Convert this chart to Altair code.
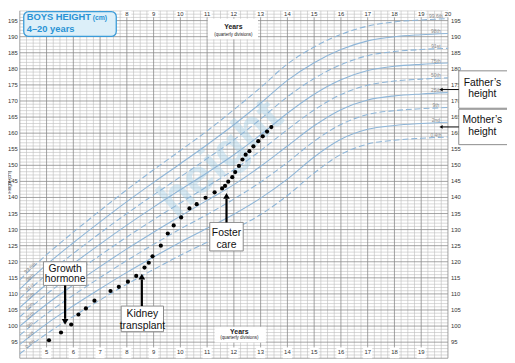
import altair as alt
import pandas as pd
import numpy as np

# ---------------- data ----------------
ages = list(range(4, 21))
cent_names = ["0.4th", "2nd", "9th", "25th", "50th", "75th", "91st", "98th", "99.6th"]
c0_4 = [91.4, 97.6, 103.0, 108.1, 113.0, 117.6, 122.0, 126.1, 130.1, 134.7, 140.6, 147.6, 153.4, 156.6, 157.8, 158.4, 158.8]
c2 = [94.3, 100.7, 106.3, 111.6, 116.7, 121.5, 126.1, 130.4, 134.8, 139.8, 145.7, 152.6, 158.1, 161.2, 162.4, 163.0, 163.4]
c9 = [97.2, 103.8, 109.6, 115.1, 120.4, 125.4, 130.2, 134.7, 139.5, 144.8, 150.9, 157.5, 162.7, 165.8, 167.0, 167.6, 168.0]
c25 = [100.0, 106.8, 112.8, 118.5, 124.0, 129.2, 134.2, 139.1, 144.0, 149.7, 156.0, 162.3, 167.3, 170.3, 171.6, 172.2, 172.6]
c50 = [102.9, 109.9, 116.1, 122.0, 127.7, 133.1, 138.3, 143.4, 148.6, 154.6, 161.1, 167.2, 172.0, 174.9, 176.2, 176.8, 177.2]
c75 = [105.8, 113.0, 119.4, 125.5, 131.4, 137.0, 142.4, 147.7, 153.3, 159.5, 166.2, 172.1, 176.6, 179.5, 180.8, 181.4, 181.8]
c91 = [108.6, 116.0, 122.6, 128.9, 135.0, 140.8, 146.4, 152.1, 157.9, 164.4, 171.3, 177.0, 181.3, 184.1, 185.4, 186.0, 186.4]
c98 = [111.5, 119.1, 125.9, 132.4, 138.7, 144.7, 150.5, 156.4, 162.6, 169.3, 176.4, 181.9, 186.0, 188.7, 190.0, 190.6, 191.0]
c99_6 = [114.4, 122.2, 129.2, 135.9, 142.4, 148.6, 154.6, 160.7, 167.3, 174.2, 181.5, 186.8, 190.7, 193.3, 194.6, 195.2, 195.6]
cent_values = [c0_4, c2, c9, c25, c50, c75, c91, c98, c99_6]
cent_dashed = [True, False, True, False, True, False, True, False, True]

child_age = [5.09, 5.54, 5.92, 6.19, 6.47, 6.79, 7.39, 7.70, 8.04, 8.35, 8.66, 8.82, 8.96,
             9.27, 9.53, 9.75, 10.03, 10.34, 10.61, 10.94, 11.28, 11.56, 11.67, 11.79, 11.94,
             12.05, 12.19, 12.32, 12.44, 12.58, 12.73, 12.91, 13.08, 13.24, 13.40]
child_height = [95.6, 98.0, 100.5, 103.6, 105.5, 107.9, 110.9, 112.2, 113.8, 115.6, 118.2, 119.7, 121.7,
                125.0, 128.8, 131.3, 133.8, 136.6, 137.9, 139.9, 141.6, 142.8, 143.6, 144.9, 146.3,
                147.9, 149.8, 151.8, 153.3, 154.4, 155.9, 157.5, 159.0, 160.5, 161.9]

y_ticks = list(range(95, 200, 5))
year_top = list(range(8, 21))
year_bottom = list(range(5, 20))

# ---------------- layout ----------------
W, H = 435, 353
xs = alt.Scale(domain=[4, 20], nice=False, zero=False)
ys = alt.Scale(domain=[90, 198.05], nice=False, zero=False)
FONT = "Liberation Sans"
LINE_BLUE = "#8fb6d8"
TXT = "#333333"


def X(f):
    return alt.X(f"{f}:Q", scale=xs, axis=None)


def Y(f):
    return alt.Y(f"{f}:Q", scale=ys, axis=None)


def PX(f):
    return alt.X(f"{f}:Q", scale=None, axis=None)


def PY(f):
    return alt.Y(f"{f}:Q", scale=None, axis=None)


quarters = [4 + i * 0.25 for i in range(65)]
minor_v = pd.DataFrame({"v": [q for q in quarters if q % 1 != 0]})
major_v = pd.DataFrame({"v": list(range(4, 21))})
minor_h = pd.DataFrame({"v": [h for h in range(90, 199) if h % 5 != 0]})
major_h = pd.DataFrame({"v": list(range(90, 199, 5))})

grid = [
    alt.Chart(minor_v).mark_rule(color="#bdbdbd", strokeWidth=0.6).encode(x=X("v")),
    alt.Chart(minor_h).mark_rule(color="#bdbdbd", strokeWidth=0.6).encode(y=Y("v")),
    alt.Chart(major_v).mark_rule(color="#8a8a8a", strokeWidth=0.8).encode(x=X("v")),
    alt.Chart(major_h).mark_rule(color="#8a8a8a", strokeWidth=0.8).encode(y=Y("v")),
]

watermark = alt.Chart(pd.DataFrame({"t": ["height"]})).mark_text(
    font=FONT, fontWeight="bold", fontSize=50, angle=318, fill="#a9d2e8", opacity=0.45
).encode(x=alt.value(204), y=alt.value(150), text="t:N")

rows = []
for name, vals, dsh in zip(cent_names, cent_values, cent_dashed):
    for a, v in zip(ages, vals):
        rows.append({"age": a, "h": v, "c": name, "dashed": dsh})
cdf = pd.DataFrame(rows)

solid_lines = alt.Chart(cdf[~cdf.dashed]).mark_line(
    interpolate="monotone", color=LINE_BLUE, strokeWidth=1.1
).encode(x=X("age"), y=Y("h"), detail="c:N")
dashed_lines = alt.Chart(cdf[cdf.dashed]).mark_line(
    interpolate="monotone", color=LINE_BLUE, strokeWidth=1.1, strokeDash=[6, 3]
).encode(x=X("age"), y=Y("h"), detail="c:N")

left_lab = pd.DataFrame({
    "age": [4.42] * 9,
    "h": [float(np.interp(4.42, ages, v)) for v in cent_values],
    "t": cent_names,
})
right_lab = pd.DataFrame({
    "age": [19.55] * 9,
    "h": [float(np.interp(19.55, ages, v)) for v in cent_values],
    "t": cent_names,
})
left_labels = alt.Chart(left_lab).mark_text(
    font=FONT, fontSize=5, angle=320, fill="#8a8a8a", dy=-2
).encode(x=X("age"), y=Y("h"), text="t:N")
right_labels = alt.Chart(right_lab).mark_text(
    font=FONT, fontSize=5, fill="#8a8a8a", dy=-3
).encode(x=X("age"), y=Y("h"), text="t:N")

dots = alt.Chart(pd.DataFrame({"age": child_age, "h": child_height})).mark_circle(
    size=18, color="black", opacity=1
).encode(x=X("age"), y=Y("h"))

# year labels with white backgrounds
top_df = pd.DataFrame({"a": year_top, "a0": [y - 0.17 for y in year_top], "a1": [y + 0.17 for y in year_top],
                       "t": [str(y) for y in year_top]})
bot_df = pd.DataFrame({"a": year_bottom, "a0": [y - 0.17 for y in year_bottom], "a1": [y + 0.17 for y in year_bottom],
                       "t": [str(y) for y in year_bottom]})
year_layers = [
    alt.Chart(top_df).mark_rect(fill="white").encode(x=X("a0"), x2="a1:Q", y=alt.value(0), y2=alt.value(6.5)),
    alt.Chart(top_df).mark_text(font=FONT, fontSize=6, fill=TXT, opacity=1).encode(
        x=X("a"), y=alt.value(3), text="t:N"),
    alt.Chart(bot_df).mark_rect(fill="white").encode(x=X("a0"), x2="a1:Q", y=alt.value(342), y2=alt.value(353)),
    alt.Chart(bot_df).mark_text(font=FONT, fontSize=6, fill=TXT, opacity=1).encode(
        x=X("a"), y=alt.value(347), text="t:N"),
]

ytick_df = pd.DataFrame({"h": y_ticks, "t": [str(v) for v in y_ticks]})
ylabels = [
    alt.Chart(ytick_df).mark_text(font=FONT, fontSize=6, fill=TXT, align="right").encode(
        x=alt.value(-2), y=Y("h"), text="t:N"),
    alt.Chart(ytick_df).mark_text(font=FONT, fontSize=6, fill=TXT, align="left").encode(
        x=alt.value(438), y=Y("h"), text="t:N"),
    alt.Chart(pd.DataFrame({"t": ["Height (cm)"]})).mark_text(
        font=FONT, fontSize=4.5, fill=TXT, angle=270).encode(x=alt.value(-10), y=alt.value(174), text="t:N"),
]

# "Years (quarterly divisions)" boxes
yrs_box = pd.DataFrame({"x": [191, 198], "x2": [242, 250], "y": [8, 321], "y2": [29, 337]})
yrs_txt = pd.DataFrame({
    "x": [217, 217, 223, 223],
    "y": [16, 24.5, 326, 332],
    "t": ["Years", "(quarterly divisions)", "Years", "(quarterly divisions)"],
    "w": ["bold", "normal", "bold", "normal"],
})
years_layers = [
    alt.Chart(yrs_box).mark_rect(fill="white").encode(x=PX("x"), x2="x2:Q", y=PY("y"), y2="y2:Q"),
    alt.Chart(yrs_txt[yrs_txt.w == "bold"]).mark_text(font=FONT, fontSize=7, fontWeight="bold", fill="#222").encode(
        x=PX("x"), y=PY("y"), text="t:N"),
    alt.Chart(yrs_txt[yrs_txt.w == "normal"]).mark_text(font=FONT, fontSize=4.5, fill="#222").encode(
        x=PX("x"), y=PY("y"), text="t:N"),
]

# title box
title_layers = [
    alt.Chart(pd.DataFrame({"a": [0]})).mark_rect(
        fill="#dceff9", stroke="#3a9bd8", strokeWidth=1.3, cornerRadius=5
    ).encode(x=alt.value(4), x2=alt.value(98), y=alt.value(0.8), y2=alt.value(26)),
    alt.Chart(pd.DataFrame({"t": ["BOYS HEIGHT"]})).mark_text(
        font=FONT, fontSize=9.5, fontWeight="bold", fill="#2a93d5", align="left"
    ).encode(x=alt.value(7), y=alt.value(6.5), text="t:N"),
    alt.Chart(pd.DataFrame({"t": ["(cm)"]})).mark_text(
        font=FONT, fontSize=7, fontWeight="bold", fill="#2a93d5", align="left"
    ).encode(x=alt.value(74), y=alt.value(7), text="t:N"),
    alt.Chart(pd.DataFrame({"t": ["4–20 years"]})).mark_text(
        font=FONT, fontSize=9.5, fontWeight="bold", fill="#2a93d5", align="left"
    ).encode(x=alt.value(7), y=alt.value(18.5), text="t:N"),
]

# annotation boxes
ann_box = pd.DataFrame({
    "x": [24, 103, 193, 446, 446],
    "x2": [68, 146, 227, 505, 505],
    "y": [255, 300, 215, 61, 100],
    "y2": [279, 326, 244, 99, 136],
})
ann_txt = pd.DataFrame({
    "x": [46, 46, 124.5, 124.5, 210, 210, 470, 470, 470, 470],
    "y": [262, 273, 308, 320, 226, 237.5, 73, 85, 111.5, 123.5],
    "t": ["Growth", "hormone", "Kidney", "transplant", "Foster", "care",
          "Father’s", "height", "Mother’s", "height"],
})
shafts = pd.DataFrame({
    "x": [46, 124, 210, 429, 429],
    "x2": [46, 124, 210, 446, 446],
    "y": [279, 300, 215, 80, 118],
    "y2": [313, 273, 191, 80, 118],
    "w": [2.2, 2.2, 2.2, 1, 1],
})
ann_layers = [
    alt.Chart(ann_box).mark_rect(fill="white", stroke="#8a8a8a", strokeWidth=1).encode(
        x=PX("x"), x2="x2:Q", y=PY("y"), y2="y2:Q"),
    alt.Chart(ann_txt).mark_text(font=FONT, fontSize=10.5, fill="#111").encode(
        x=PX("x"), y=PY("y"), text="t:N"),
    alt.Chart(shafts[shafts.w > 2]).mark_rule(color="black", strokeWidth=2.2).encode(
        x=PX("x"), x2="x2:Q", y=PY("y"), y2="y2:Q"),
    alt.Chart(shafts[shafts.w < 2]).mark_rule(color="black", strokeWidth=1).encode(
        x=PX("x"), x2="x2:Q", y=PY("y"), y2="y2:Q"),
    alt.Chart(pd.DataFrame({"x": [46], "y": [316]})).mark_point(
        shape="triangle-down", filled=True, color="black", size=45, opacity=1).encode(x=PX("x"), y=PY("y")),
    alt.Chart(pd.DataFrame({"x": [124, 210], "y": [270, 188]})).mark_point(
        shape="triangle-up", filled=True, color="black", size=45, opacity=1).encode(x=PX("x"), y=PY("y")),
    alt.Chart(pd.DataFrame({"x": [428, 428], "y": [80, 118]})).mark_point(
        shape="triangle-left", filled=True, color="black", size=14, opacity=1).encode(x=PX("x"), y=PY("y")),
]

chart = alt.layer(
    *grid, watermark, solid_lines, dashed_lines, left_labels, right_labels, dots,
    *year_layers, *ylabels, *years_layers, *title_layers, *ann_layers
).properties(
    width=W, height=H,
    autosize=alt.AutoSizeParams(type="none"),
    padding={"left": 12, "top": 0, "right": 60, "bottom": 2},
).configure_view(stroke=None)

chart.save("out.html", embed_options={"renderer": "svg", "actions": False})
